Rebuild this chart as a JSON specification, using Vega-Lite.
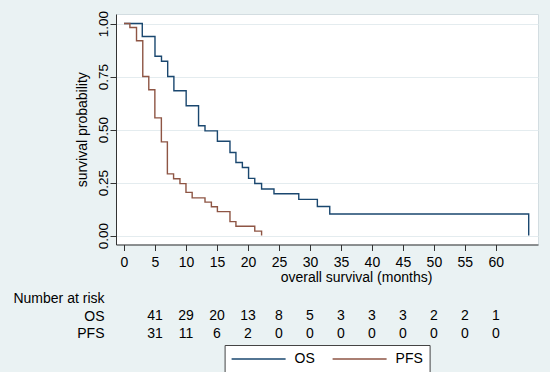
{
  "$schema": "https://vega.github.io/schema/vega-lite/v6.json",
  "background": "#eaf2f3",
  "padding": {"left": 12, "top": 9, "right": 12, "bottom": 1},
  "bounds": "flush",
  "spacing": 45,
  "config": {"font": "Liberation Sans", "text": {"font": "Liberation Sans"}},
  "datasets": {
    "km": [
      {"curve": "OS", "t": 0, "s": 1.0},
      {"curve": "OS", "t": 2.95, "s": 0.939},
      {"curve": "OS", "t": 5.0, "s": 0.846},
      {"curve": "OS", "t": 6.05, "s": 0.822},
      {"curve": "OS", "t": 7.05, "s": 0.75},
      {"curve": "OS", "t": 8.05, "s": 0.683},
      {"curve": "OS", "t": 10.03, "s": 0.612},
      {"curve": "OS", "t": 12.03, "s": 0.518},
      {"curve": "OS", "t": 13.07, "s": 0.494},
      {"curve": "OS", "t": 15.07, "s": 0.445},
      {"curve": "OS", "t": 17.1, "s": 0.392},
      {"curve": "OS", "t": 18.06, "s": 0.345},
      {"curve": "OS", "t": 19.1, "s": 0.321},
      {"curve": "OS", "t": 20.1, "s": 0.27},
      {"curve": "OS", "t": 21.1, "s": 0.246},
      {"curve": "OS", "t": 22.2, "s": 0.22},
      {"curve": "OS", "t": 24.2, "s": 0.197},
      {"curve": "OS", "t": 28.2, "s": 0.171},
      {"curve": "OS", "t": 31.2, "s": 0.137},
      {"curve": "OS", "t": 33.2, "s": 0.102},
      {"curve": "OS", "t": 65.3, "s": 0.0},
      {"curve": "PFS", "t": 0, "s": 1.0},
      {"curve": "PFS", "t": 0.95, "s": 0.981},
      {"curve": "PFS", "t": 2.02, "s": 0.919},
      {"curve": "PFS", "t": 3.03, "s": 0.75},
      {"curve": "PFS", "t": 4.0, "s": 0.688},
      {"curve": "PFS", "t": 4.98, "s": 0.555},
      {"curve": "PFS", "t": 6.03, "s": 0.442},
      {"curve": "PFS", "t": 7.0, "s": 0.291},
      {"curve": "PFS", "t": 8.0, "s": 0.268},
      {"curve": "PFS", "t": 9.03, "s": 0.245},
      {"curve": "PFS", "t": 10.0, "s": 0.204},
      {"curve": "PFS", "t": 11.0, "s": 0.178},
      {"curve": "PFS", "t": 13.07, "s": 0.158},
      {"curve": "PFS", "t": 14.1, "s": 0.136},
      {"curve": "PFS", "t": 15.07, "s": 0.113},
      {"curve": "PFS", "t": 17.1, "s": 0.066},
      {"curve": "PFS", "t": 18.06, "s": 0.044},
      {"curve": "PFS", "t": 21.1, "s": 0.021},
      {"curve": "PFS", "t": 22.2, "s": 0.0}
    ],
    "risk": [
      {"row": "OS", "t": 5, "n": 41},
      {"row": "OS", "t": 10, "n": 29},
      {"row": "OS", "t": 15, "n": 20},
      {"row": "OS", "t": 20, "n": 13},
      {"row": "OS", "t": 25, "n": 8},
      {"row": "OS", "t": 30, "n": 5},
      {"row": "OS", "t": 35, "n": 3},
      {"row": "OS", "t": 40, "n": 3},
      {"row": "OS", "t": 45, "n": 3},
      {"row": "OS", "t": 50, "n": 2},
      {"row": "OS", "t": 55, "n": 2},
      {"row": "OS", "t": 60, "n": 1},
      {"row": "PFS", "t": 5, "n": 31},
      {"row": "PFS", "t": 10, "n": 11},
      {"row": "PFS", "t": 15, "n": 6},
      {"row": "PFS", "t": 20, "n": 2},
      {"row": "PFS", "t": 25, "n": 0},
      {"row": "PFS", "t": 30, "n": 0},
      {"row": "PFS", "t": 35, "n": 0},
      {"row": "PFS", "t": 40, "n": 0},
      {"row": "PFS", "t": 45, "n": 0},
      {"row": "PFS", "t": 50, "n": 0},
      {"row": "PFS", "t": 55, "n": 0},
      {"row": "PFS", "t": 60, "n": 0}
    ]
  },
  "vconcat": [
    {
      "width": 422,
      "height": 230.5,
      "view": {"fill": "white", "stroke": "#d3dde1"},
      "data": {"name": "km"},
      "mark": {"type": "line", "interpolate": "step-after", "strokeWidth": 1.4},
      "encoding": {
        "x": {
          "field": "t", "type": "quantitative",
          "scale": {"domain": [-1.29, 66.8], "nice": false, "zero": false},
          "axis": {
            "values": [0, 5, 10, 15, 20, 25, 30, 35, 40, 45, 50, 55, 60],
            "title": "overall survival (months)",
            "titleX": 240, "titleY": 26, "titleBaseline": "top", "titleAlign": "center",
            "titleFontSize": 14, "titleFontWeight": "normal", "titleColor": "#000",
            "labelFontSize": 14, "labelPadding": 5, "labelColor": "#000", "labelFlush": false,
            "tickSize": 6, "tickColor": "#333", "domainColor": "#333", "grid": false
          }
        },
        "y": {
          "field": "s", "type": "quantitative",
          "scale": {"domain": [-0.042, 1.045], "nice": false, "zero": false},
          "axis": {
            "values": [0, 0.25, 0.5, 0.75, 1],
            "format": ".2f",
            "title": "survival probability",
            "titleFontSize": 14, "titleFontWeight": "normal", "titleColor": "#000", "titlePadding": 7,
            "labelAngle": 270, "labelAlign": "center", "labelBaseline": "alphabetic",
            "labelPadding": 3, "labelFontSize": 13.5, "labelColor": "#000", "labelFlush": false,
            "tickSize": 6, "tickColor": "#333", "domainColor": "#333",
            "grid": true, "gridColor": "#e4ecef", "gridWidth": 1
          }
        },
        "color": {
          "field": "curve", "type": "nominal",
          "scale": {"domain": ["OS", "PFS"], "range": ["#1a476f", "#8e5544"]},
          "legend": {
            "orient": "none", "legendX": 108.6, "legendY": 331,
            "direction": "horizontal", "title": null,
            "symbolType": "stroke", "symbolSize": 2916, "symbolStrokeWidth": 1.4,
            "clipHeight": 16,
            "labelFontSize": 14, "labelColor": "#000", "labelOffset": 8,
            "fillColor": "white", "strokeColor": "#444", "padding": 6, "columnPadding": 16
          }
        }
      }
    },
    {
      "width": 422,
      "height": 52.2,
      "view": {"stroke": null},
      "data": {"name": "risk"},
      "mark": {"type": "text", "fontSize": 14, "baseline": "middle", "align": "center", "color": "#000"},
      "encoding": {
        "x": {
          "field": "t", "type": "quantitative",
          "scale": {"domain": [-1.29, 66.8], "nice": false, "zero": false},
          "axis": null
        },
        "y": {
          "field": "row", "type": "nominal",
          "scale": {"domain": ["Number at risk", "OS", "PFS"], "paddingInner": 0, "paddingOuter": 0},
          "axis": {
            "title": null, "domain": false, "ticks": false, "labelPadding": 12,
            "labelFontSize": 14, "labelColor": "#000", "labelBaseline": "middle"
          }
        },
        "text": {"field": "n", "type": "quantitative"}
      }
    }
  ]
}
